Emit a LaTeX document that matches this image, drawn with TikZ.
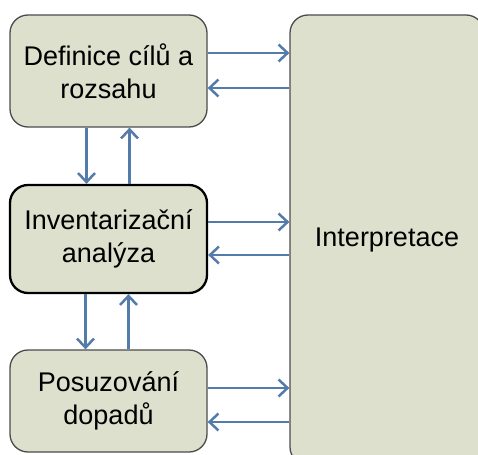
\documentclass[tikz,border=0pt]{standalone}
\usepackage{fontspec}
\setmainfont{Liberation Sans}
\usepackage{tikz}
\usetikzlibrary{arrows.meta}
\definecolor{boxfill}{RGB}{220,224,204}
\definecolor{linkblue}{RGB}{84,124,170}

\begin{document}
\begin{tikzpicture}[x=1pt,y=-1pt]
		\tikzstyle{box}=[rounded corners=18pt,fill=boxfill,draw=black!70,line width=1.3pt,align=center,font=\fontsize{27}{33}\selectfont,inner sep=0pt]
		\tikzstyle{link}=[draw=linkblue,line width=2.5pt,-{Straight Barb[length=9pt,width=17pt,line width=2.5pt]}]

		\useasboundingbox (0,0) rectangle (478,454);

		% Draw boxes
		\node[box,minimum width=197pt,minimum height=112pt] (def) at (108.5,71) {Definice cílů a\\rozsahu};
		\node[box,minimum width=197pt,minimum height=108pt,draw=black,line width=2.3pt] (inv) at (108.5,239) {Inventarizační\\analýza};
		\node[box,minimum width=197pt,minimum height=102pt] (pos) at (108.5,401) {Posuzování\\dopadů};
		\node[box,minimum width=194pt,minimum height=450pt] (int) at (387,240) {Interpretace};

		% Draw arrows
		\draw[link] ([yshift=18pt]def.east) -- ([yshift=18pt]def.east -| int.west);
		\draw[link] ([yshift=-17pt]def.east -| int.west) -- ([yshift=-17pt]def.east);
		\draw[link] ([yshift=17pt]inv.east) -- ([yshift=17pt]inv.east -| int.west);
		\draw[link] ([yshift=-16pt]inv.east -| int.west) -- ([yshift=-16pt]inv.east);
		\draw[link] ([yshift=13pt]pos.east) -- ([yshift=13pt]pos.east -| int.west);
		\draw[link] ([yshift=-21pt]pos.east -| int.west) -- ([yshift=-21pt]pos.east);

		\draw[link] ([xshift=-22pt]def.south) -- ([xshift=-22pt]inv.north);
		\draw[link] ([xshift=21pt]inv.north) -- ([xshift=21pt]def.south);
		\draw[link] ([xshift=-23pt]inv.south) -- ([xshift=-23pt]pos.north);
		\draw[link] ([xshift=20pt]pos.north) -- ([xshift=20pt]inv.south);

		\end{tikzpicture}
\end{document}
